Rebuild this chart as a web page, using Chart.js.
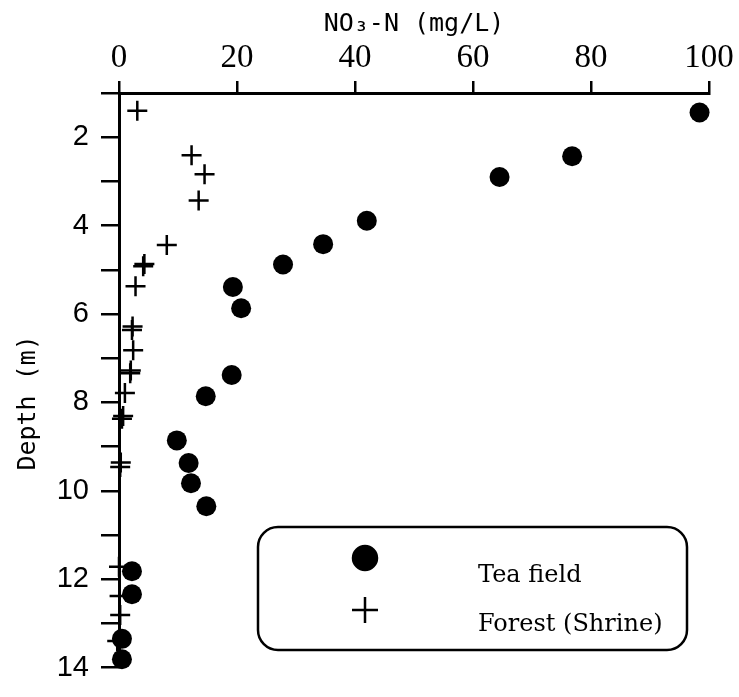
<!DOCTYPE html>
<html>
<head>
<meta charset="utf-8">
<script src="https://cdn.jsdelivr.net/npm/chart.js@4/dist/chart.umd.min.js"></script>
<style>
  html, body { margin: 0; padding: 0; background: #fff; }
</style>
</head>
<body>
<canvas id="chart" width="739" height="697"></canvas>
<script>
// NO3-N (mg/L) vs depth (m)
const teaNO3 = [98.4, 76.8, 64.5, 42.0, 34.6, 27.8, 19.3, 20.7, 19.1, 14.7, 9.8, 11.8, 12.2, 14.8, 2.2, 2.2, 0.5, 0.5];
const teaDepth = [1.44, 2.43, 2.90, 3.89, 4.42, 4.88, 5.39, 5.87, 7.38, 7.86, 8.86, 9.37, 9.83, 10.35, 11.82, 12.34, 13.35, 13.81];

const forestNO3 = [3.1, 12.3, 14.5, 13.5, 8.1, 4.3, 4.1, 2.8, 2.3, 2.2, 2.4, 2.0, 1.9, 1.0, 0.7, 0.5, 0.3, 0.2, 0.0, 0.1, 0.2, -0.3];
const forestDepth = [1.40, 2.41, 2.84, 3.43, 4.44, 4.87, 4.92, 5.37, 6.28, 6.36, 6.82, 7.28, 7.34, 7.79, 8.31, 8.37, 9.36, 9.46, 11.72, 12.38, 12.81, 13.40];

const seriesLabels = ["Tea field", "Forest (Shrine)"];
const xTicks = [0, 20, 40, 60, 80, 100];
const depthTicks = [2, 4, 6, 8, 10, 12, 14];

const toPoints = (xs, ys) => xs.map((x, i) => ({ x: x, y: ys[i] }));

// rounded legend box drawn by hand, like the original figure
const boxLegend = {
  id: "boxLegend",
  afterDraw(chart) {
    const ctx = chart.ctx;
    const metas = chart.data.datasets;
    ctx.save();
    ctx.strokeStyle = "#000";
    ctx.lineWidth = 2.5;
    ctx.beginPath();
    ctx.roundRect(258, 527, 429, 123, 20);
    ctx.stroke();

    const rows = [
      { y: 558, text: 582, style: "circle", r: 12 },
      { y: 610, text: 631, style: "cross", r: 13 },
    ];
    rows.forEach((row, i) => {
      const ds = metas[i];
      ctx.fillStyle = "#000";
      ctx.strokeStyle = "#000";
      ctx.lineWidth = 2.5;
      Chart.helpers.drawPoint(ctx, { pointStyle: row.style, radius: row.r, borderWidth: 2.5 }, 365, row.y);
      if (row.style === "circle") {
        ctx.beginPath();
        ctx.arc(365, row.y, row.r, 0, Math.PI * 2);
        ctx.fill();
      }
      ctx.font = "24px 'DejaVu Serif'";
      ctx.textAlign = "left";
      ctx.textBaseline = "alphabetic";
      ctx.fillText(ds.label, 478, row.text);
    });
    ctx.restore();
  }
};

new Chart(document.getElementById("chart"), {
  type: "scatter",
  data: {
    datasets: [
      {
        label: seriesLabels[0],
        data: toPoints(teaNO3, teaDepth),
        pointStyle: "circle",
        pointRadius: 10,
        pointBackgroundColor: "#000",
        pointBorderWidth: 0,
        clip: false,
      },
      {
        label: seriesLabels[1],
        data: toPoints(forestNO3, forestDepth),
        pointStyle: "cross",
        pointRadius: 10,
        pointBorderColor: "#000",
        pointBorderWidth: 2.5,
        clip: false,
      },
    ],
  },
  options: {
    responsive: false,
    animation: false,
    layout: { padding: { left: 0, top: 0, right: 30, bottom: 24 } },
    plugins: {
      legend: { display: false },
      tooltip: { enabled: false },
    },
    scales: {
      x: {
        type: "linear",
        position: "top",
        min: 0,
        max: 100,
        afterFit: (s) => { s.height = 93; },
        afterBuildTicks: (s) => { s.ticks = xTicks.map((v) => ({ value: v })); },
        grid: { drawOnChartArea: false, color: "#000", lineWidth: 2.5, tickLength: 12 },
        border: { color: "#000", width: 3 },
        ticks: {
          color: "#000",
          padding: 3,
          maxRotation: 0,
          font: { family: "'Liberation Serif'", size: 33 },
        },
        title: {
          display: true,
          text: "NO\u2083-N (mg/L)",
          color: "#000",
          padding: { top: 9, bottom: 0 },
          font: { family: "'DejaVu Sans Mono'", size: 25 },
        },
      },
      y: {
        type: "linear",
        position: "left",
        reverse: true,
        min: 1,
        max: 14,
        afterFit: (s) => { s.width = 119; },
        ticks: {
          stepSize: 1,
          color: "#000",
          padding: 12,
          callback: (v) => (depthTicks.includes(v) ? v : ""),
          font: { family: "'Liberation Sans'", size: 29 },
        },
        grid: { drawOnChartArea: false, color: "#000", lineWidth: 2.5, tickLength: 18 },
        border: { color: "#000", width: 3 },
        title: {
          display: true,
          text: "Depth (m)   ",
          color: "#000",
          padding: { top: 13, bottom: 0 },
          font: { family: "'DejaVu Sans Mono'", size: 25 },
        },
      },
    },
  },
  plugins: [boxLegend],
});
</script>
</body>
</html>
